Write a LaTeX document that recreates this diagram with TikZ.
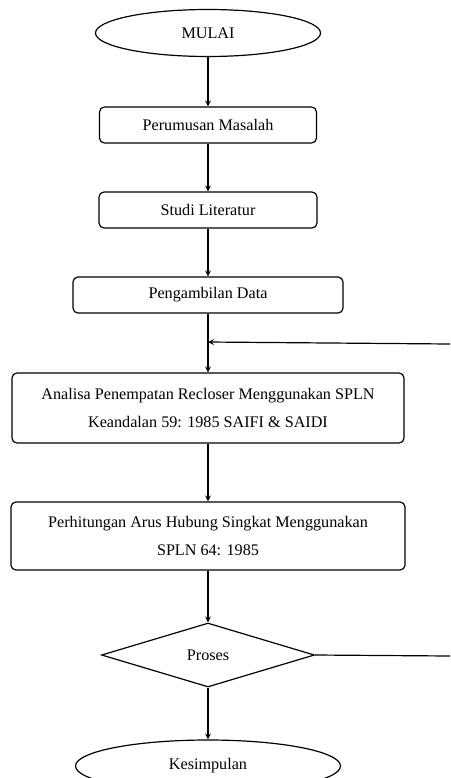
\documentclass[tikz,border=0pt]{standalone}
\usepackage{fontspec}
\setmainfont{Liberation Serif}
\usetikzlibrary{shapes.geometric}
\tikzset{
    kotak/.style={draw,rounded corners=3.5pt,align=center,inner sep=0pt},
    oval/.style={draw,ellipse,inner sep=0pt},
}
\begin{document}
\begin{tikzpicture}[>=stealth,line width=0.85pt,font=\fontsize{11.5}{20}\selectfont]
    \useasboundingbox (0,0) rectangle (11.25,-19.45);
    \node[oval,minimum width=5.625cm,minimum height=1.175cm](mulai) at (5.2,-0.825){MULAI};
    \node[kotak,minimum width=5.425cm,minimum height=0.9cm](rumus) at (5.2,-3.125){Perumusan Masalah};
    \node[kotak,minimum width=5.45cm,minimum height=0.9cm](studi) at (5.2,-5.25){Studi Literatur};
    \node[kotak,minimum width=6.75cm,minimum height=0.9cm](data) at (5.2,-7.375){Pengambilan Data};
    \node[kotak,minimum width=9.8cm,minimum height=1.75cm](analisa) at (5.2,-10.2){Analisa Penempatan Recloser Menggunakan SPLN\\Keandalan 59: 1985 SAIFI \& SAIDI};
    \node[kotak,minimum width=9.85cm,minimum height=1.7cm](hitung) at (5.2,-13.4){Perhitungan Arus Hubung Singkat Menggunakan\\SPLN 64: 1985};
    \node[draw,diamond,inner sep=0pt,minimum width=5.325cm,minimum height=1.6cm](proses) at (5.2,-16.375){Proses};
    \node[oval,minimum width=6.625cm,minimum height=1.3cm](simpul) at (5.2,-19.15){Kesimpulan};
    \coordinate (gabung) at (5.2,-8.55);
    \coordinate (kanan1) at (11.25,-8.6);
    \coordinate (kanan2) at (11.25,-16.4);
    \draw[->](mulai)--(rumus);
    \draw[->](rumus)--(studi);
    \draw[->](studi)--(data);
    \draw[->](data)--(analisa);
    \draw[->](analisa)--(hitung);
    \draw[->](hitung)--(proses);
    \draw[->](proses)--(simpul);
    \draw[->](kanan1)--(gabung);
    \draw(proses.east)--(kanan2);
\end{tikzpicture}
\end{document}
